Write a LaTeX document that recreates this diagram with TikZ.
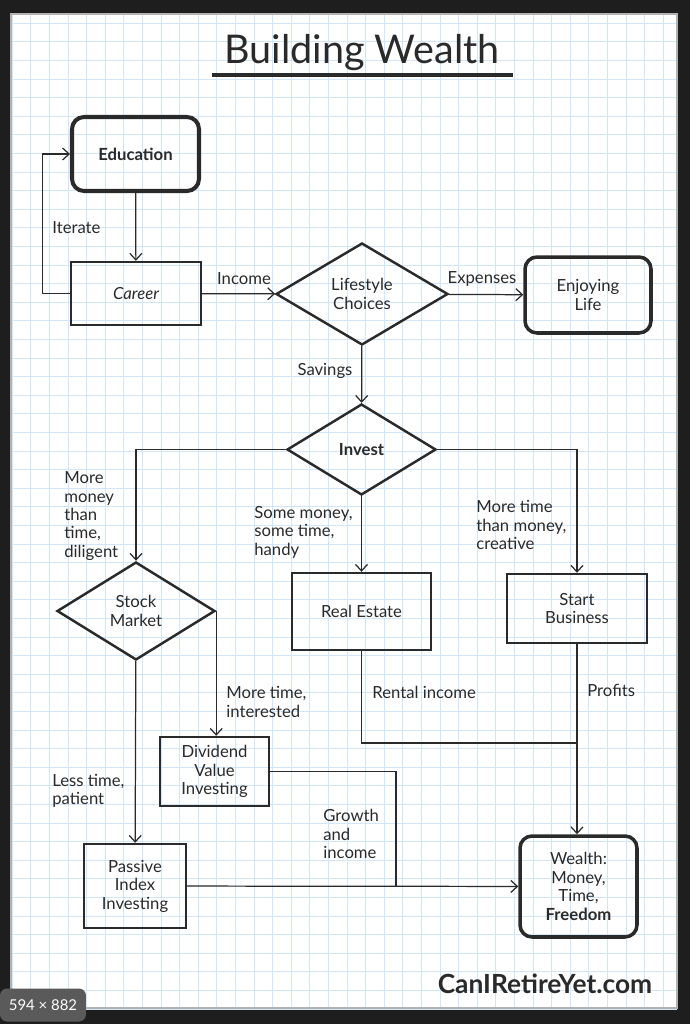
\documentclass[tikz,border=0pt]{standalone}
\usepackage{fontspec}
\setmainfont{Lato}
\usetikzlibrary{shapes.geometric,arrows.meta}
\definecolor{paperblue}{HTML}{D3E6F8}
\definecolor{ink}{HTML}{2A2A2A}
\definecolor{frame}{HTML}{1E1E1E}
\definecolor{badgegray}{HTML}{5A5A5A}

\begin{document}
\begin{tikzpicture}[x=0.02cm,y=-0.02cm,
    txt/.style={font=\fontsize{9.5}{10.5}\selectfont,text=ink,align=center},
    lbl/.style={txt,anchor=west,align=left,inner sep=0pt},
    box/.style={txt,draw=ink,line width=1.4pt,inner sep=0pt},
    endbox/.style={box,rounded corners=0.24cm,line width=2pt},
    choice/.style={txt,diamond,draw=ink,line width=1.4pt,inner sep=0pt},
    link/.style={draw=ink,line width=0.7pt},
    arr/.style={link,-{Straight Barb[length=1.3mm,width=2.4mm]}}]
    \useasboundingbox (0,0) rectangle (690,1024);
    \fill[frame] (0,0) rectangle (690,1024);
    \fill[white] (11,14) rectangle (677,1008);
    \foreach \gx in {0,...,35}
        \draw[paperblue,line width=0.5pt] (12.2+18.6*\gx,14) -- (12.2+18.6*\gx,1008);
    \foreach \gy in {0,...,53}
        \draw[paperblue,line width=0.5pt] (11,23.2+18.6*\gy) -- (677,23.2+18.6*\gy);
    \draw[gray!60,line width=1pt] (11,14) rectangle (677,1008);

    \node[txt] (title) at (362,53) {\fontsize{22.5}{24}\selectfont Building Wealth};
    \draw[ink,line width=2pt] (212,75) -- (513,75);

    \node[endbox,line width=2.3pt,minimum width=2.54cm,minimum height=1.48cm] (edu) at (135.5,154) {\bfseries Education};
    \node[box,minimum width=2.6cm,minimum height=1.26cm] (car) at (136,293.5) {\itshape Career};
    \node[choice,minimum width=3.44cm,minimum height=2.04cm] (life) at (362,294) {Lifestyle\\Choices};
    \node[endbox,minimum width=2.52cm,minimum height=1.52cm] (enjoy) at (588,295) {Enjoying\\Life};
    \node[choice,minimum width=2.98cm,minimum height=1.82cm] (invest) at (361.5,449.5) {\bfseries Invest};
    \node[choice,minimum width=3.16cm,minimum height=1.96cm] (stock) at (136,611) {Stock\\Market};
    \node[box,minimum width=2.78cm,minimum height=1.54cm] (real) at (361.5,611.5) {Real Estate};
    \node[box,minimum width=2.8cm,minimum height=1.38cm] (biz) at (577,608.5) {Start\\Business};
    \node[box,minimum width=2.18cm,minimum height=1.38cm] (divi) at (214.5,771.5) {Dividend\\Value\\Investing};
    \node[box,minimum width=2.04cm,minimum height=1.68cm] (passive) at (135,886) {Passive\\Index\\Investing};
    \node[endbox,minimum width=2.34cm,minimum height=2.02cm] (wealth) at (578.5,886.5) {Wealth:\\Money,\\Time,\\\bfseries Freedom};

    \node[lbl] (iterate) at (52,228) {Iterate};
    \node[txt] (income) at (244,279) {Income};
    \node[txt] (expenses) at (482,279) {Expenses};
    \node[txt] (savings) at (325,371) {Savings};
    \node[lbl] (diligent) at (64,516) {More\\money\\than\\time,\\diligent};
    \node[lbl] (handy) at (254,532) {Some money,\\some time,\\handy};
    \node[lbl] (creative) at (476,525) {More time\\than money,\\creative};
    \node[lbl] (interested) at (226,702) {More time,\\interested};
    \node[lbl] (rental) at (372,692) {Rental income};
    \node[lbl] (profits) at (587,690) {Profits};
    \node[lbl] (patient) at (52,791) {Less time,\\patient};
    \node[lbl] (growth) at (323,834) {Growth\\and\\income};

    \coordinate (rentjoin) at (578,743);
    \coordinate (growjoin) at (396,886);

    \draw[arr] (edu) -- (car);
    \draw[arr] (car.west) -- ++(-27,0) |- (edu.west);
    \draw[arr] (car) -- (life);
    \draw[arr] (life) -- (enjoy);
    \draw[arr] (life) -- (invest);
    \draw[arr] (invest.west) -| (stock.north);
    \draw[arr] (invest) -- (real);
    \draw[arr] (invest.east) -| (biz.north);
    \draw[arr] (stock.east) -- (stock.east |- divi.north);
    \draw[arr] (stock) -- (passive);
    \draw[link] (real.south) |- (rentjoin);
    \draw[arr] (biz) -- (biz |- wealth.north);
    \draw[link] (divi.east) -| (growjoin);
    \draw[arr] (passive) -- (wealth);

    \node[txt,font=\fontsize{15}{17}\selectfont\bfseries] (site) at (545,984) {CanIRetireYet.com};
    \node[fill=badgegray,rounded corners=4pt,text=white,font=\fontsize{8.5}{10}\selectfont,minimum width=1.72cm,minimum height=0.66cm] (badge) at (43,1005) {594 × 882};
\end{tikzpicture}
\end{document}
